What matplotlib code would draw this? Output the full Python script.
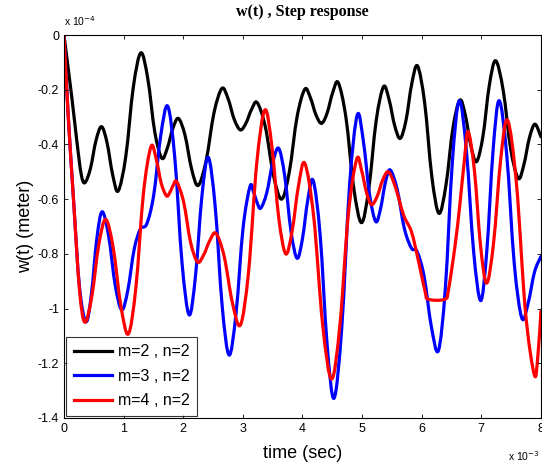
import numpy as np
import matplotlib
matplotlib.use("Agg")
import matplotlib.pyplot as plt
from matplotlib.path import Path
from matplotlib.patches import PathPatch
from matplotlib.lines import Line2D
from matplotlib.ticker import FuncFormatter

# time in ms (x 1e-3 s), deflection in units of 1e-4 m
t_m2 = [0.00, 0.13, 0.22, 0.29, 0.35, 0.443, 0.537, 0.63, 0.723, 0.817, 0.91,
        1.037, 1.163, 1.29, 1.407, 1.523, 1.64, 1.733, 1.827, 1.92, 2.03, 2.14,
        2.25, 2.383, 2.517, 2.65, 2.753, 2.857, 2.96, 3.053, 3.147, 3.24, 3.377,
        3.513, 3.65, 3.78, 3.91, 4.04, 4.133, 4.227, 4.32, 4.413, 4.507, 4.60,
        4.73, 4.86, 4.99, 5.113, 5.237, 5.36, 5.453, 5.547, 5.64, 5.737, 5.833,
        5.93, 6.05, 6.17, 6.29, 6.407, 6.523, 6.64, 6.733, 6.827, 6.92, 7.027,
        7.133, 7.24, 7.367, 7.493, 7.62, 7.713, 7.807, 7.90, 8.00]
w_m2 = [0.00, -0.225, -0.395, -0.51, -0.54, -0.489, -0.386, -0.335, -0.394,
        -0.511, -0.57, -0.444, -0.191, -0.065, -0.161, -0.354, -0.45, -0.414,
        -0.341, -0.305, -0.366, -0.489, -0.55, -0.461, -0.284, -0.195, -0.233,
        -0.309, -0.347, -0.322, -0.272, -0.247, -0.335, -0.512, -0.60, -0.50,
        -0.299, -0.198, -0.229, -0.292, -0.323, -0.286, -0.211, -0.174, -0.302,
        -0.558, -0.686, -0.562, -0.313, -0.189, -0.236, -0.331, -0.378, -0.312,
        -0.179, -0.113, -0.248, -0.517, -0.652, -0.549, -0.342, -0.238, -0.294,
        -0.407, -0.463, -0.371, -0.186, -0.094, -0.202, -0.417, -0.524, -0.475,
        -0.376, -0.326, -0.372]

t_m3 = [0.00, 0.07, 0.16, 0.26, 0.37, 0.46, 0.55, 0.64, 0.75, 0.86, 0.97, 1.073,
        1.177, 1.28, 1.39, 1.507, 1.623, 1.74, 1.86, 1.98, 2.10, 2.207, 2.313,
        2.42, 2.537, 2.653, 2.77, 2.887, 3.003, 3.12, 3.18, 3.24, 3.30, 3.40,
        3.50, 3.60, 3.703, 3.807, 3.91, 4.00, 4.09, 4.18, 4.297, 4.413, 4.53,
        4.66, 4.79, 4.92, 5.023, 5.127, 5.23, 5.31, 5.39, 5.47, 5.59, 5.71,
        5.83, 5.92, 6.04, 6.16, 6.28, 6.397, 6.513, 6.63, 6.75, 6.87, 6.99,
        7.093, 7.197, 7.30, 7.427, 7.553, 7.68, 7.787, 7.893, 8.00]
w_m3 = [0.00, -0.29, -0.60, -0.92, -1.048, -0.948, -0.747, -0.646, -0.736,
        -0.915, -1.005, -0.931, -0.784, -0.71, -0.69, -0.583, -0.368, -0.26,
        -0.451, -0.832, -1.023, -0.879, -0.591, -0.447, -0.628, -0.989, -1.17,
        -1.016, -0.708, -0.554, -0.574, -0.613, -0.633, -0.578, -0.469, -0.414,
        -0.515, -0.716, -0.816, -0.745, -0.603, -0.532, -0.731, -1.129, -1.328,
        -1.069, -0.551, -0.292, -0.39, -0.585, -0.682, -0.635, -0.54, -0.493,
        -0.565, -0.708, -0.78, -0.79, -0.881, -1.063, -1.154, -0.926, -0.469,
        -0.24, -0.423, -0.788, -0.971, -0.788, -0.423, -0.24, -0.439, -0.836,
        -1.035, -0.979, -0.866, -0.81]

t_m4 = [0.00, 0.07, 0.16, 0.26, 0.35, 0.467, 0.583, 0.70, 0.827, 0.953, 1.08,
        1.207, 1.333, 1.46, 1.547, 1.633, 1.72, 1.777, 1.833, 1.89, 2.007,
        2.123, 2.24, 2.343, 2.447, 2.55, 2.687, 2.823, 2.96, 3.097, 3.233, 3.37,
        3.487, 3.603, 3.72, 3.827, 3.933, 4.04, 4.19, 4.34, 4.49, 4.63, 4.77,
        4.91, 4.993, 5.077, 5.16, 5.253, 5.347, 5.44, 5.55, 5.70, 5.83, 5.95,
        6.06, 6.11, 6.39, 6.45, 6.56, 6.64, 6.72, 6.78, 6.883, 6.987, 7.09,
        7.207, 7.323, 7.44, 7.59, 7.74, 7.89, 7.95, 8.00]
w_m4 = [0.00, -0.29, -0.60, -0.93, -1.05, -0.956, -0.768, -0.674, -0.779,
        -0.988, -1.093, -0.922, -0.579, -0.408, -0.453, -0.543, -0.588, -0.575,
        -0.549, -0.536, -0.61, -0.757, -0.83, -0.804, -0.751, -0.725, -0.809,
        -0.976, -1.06, -0.864, -0.47, -0.274, -0.406, -0.669, -0.80, -0.717,
        -0.552, -0.469, -0.666, -1.061, -1.258, -1.057, -0.655, -0.454, -0.496,
        -0.578, -0.62, -0.59, -0.53, -0.50, -0.55, -0.66, -0.72, -0.83, -0.94,
        -0.966, -0.966, -0.93, -0.77, -0.62, -0.45, -0.353, -0.492, -0.769,
        -0.907, -0.758, -0.46, -0.311, -0.544, -1.01, -1.243, -1.17, -1.01]

labels = ["m=2 , n=2", "m=3 , n=2", "m=4 , n=2"]
colors = ["black", "blue", "red"]
xticks = [0, 1, 2, 3, 4, 5, 6, 7, 8]
yticks = [0, -0.2, -0.4, -0.6, -0.8, -1, -1.2, -1.4]


def smooth_path(t, w):
    """Courbe lisse (Catmull-Rom -> Bezier cubique) passant par les points lus."""
    p = np.column_stack([np.array(t) * 1e-3, np.array(w) * 1e-4])
    ext = np.vstack([p[0], p, p[-1]])
    verts = [p[0]]
    codes = [Path.MOVETO]
    for i in range(len(p) - 1):
        p0, p1, p2, p3 = ext[i], ext[i + 1], ext[i + 2], ext[i + 3]
        verts += [p1 + (p2 - p0) / 6, p2 - (p3 - p1) / 6, p2]
        codes += [Path.CURVE4] * 3
    return Path(verts, codes)


fig = plt.figure(figsize=(5.42, 4.67), dpi=100)
ax = fig.add_axes([0.118, 0.105, 0.880, 0.820])

series = [(t_m2, w_m2), (t_m3, w_m3), (t_m4, w_m4)]
handles = []
for (t, w), c, lab in zip(series, colors, labels):
    ax.add_patch(PathPatch(smooth_path(t, w), fill=False, edgecolor=c, lw=2.3,
                           capstyle="round", joinstyle="round"))
    handles.append(Line2D([], [], color=c, lw=2.3, label=lab))

ax.set_xlim(0, 8e-3)
ax.set_ylim(-1.4e-4, 0)
ax.set_xticks([v * 1e-3 for v in xticks])
ax.set_yticks([v * 1e-4 for v in yticks])
ax.xaxis.set_major_formatter(FuncFormatter(lambda v, p: f"{v * 1e3:g}"))
ax.yaxis.set_major_formatter(FuncFormatter(lambda v, p: f"{round(v * 1e4, 1):g}"))
ax.tick_params(direction="in", top=True, right=True, length=3, labelsize=9,
               width=0.6)
for lab in ax.get_xticklabels() + ax.get_yticklabels():
    lab.set_family("Liberation Sans")
for s in ax.spines.values():
    s.set_linewidth(0.8)

ax.set_xlabel("time (sec)", fontsize=13, family="Liberation Sans", labelpad=7)
ax.set_ylabel("w(t) (meter)", fontsize=13, family="Liberation Sans", labelpad=3)
ax.set_title("w(t) , Step response", fontsize=11.5, family="Liberation Serif",
             fontweight="bold", pad=14)

fig.text(0.118, 0.940, r"x 10$^{-4}$", fontsize=7.5, family="Liberation Sans",
         ha="left", va="bottom")
fig.text(0.996, 0.008, r"x 10$^{-3}$", fontsize=7.5, family="Liberation Sans",
         ha="right", va="bottom")

leg = ax.legend(handles=handles, loc="lower left", frameon=True, fancybox=False,
                edgecolor="black", borderaxespad=0.15, handlelength=2.4,
                borderpad=0.45, labelspacing=0.6, handletextpad=0.4,
                prop={"family": "Liberation Sans", "size": 11.5})
leg.get_frame().set_linewidth(0.8)

fig.savefig("out.png", dpi=100)
